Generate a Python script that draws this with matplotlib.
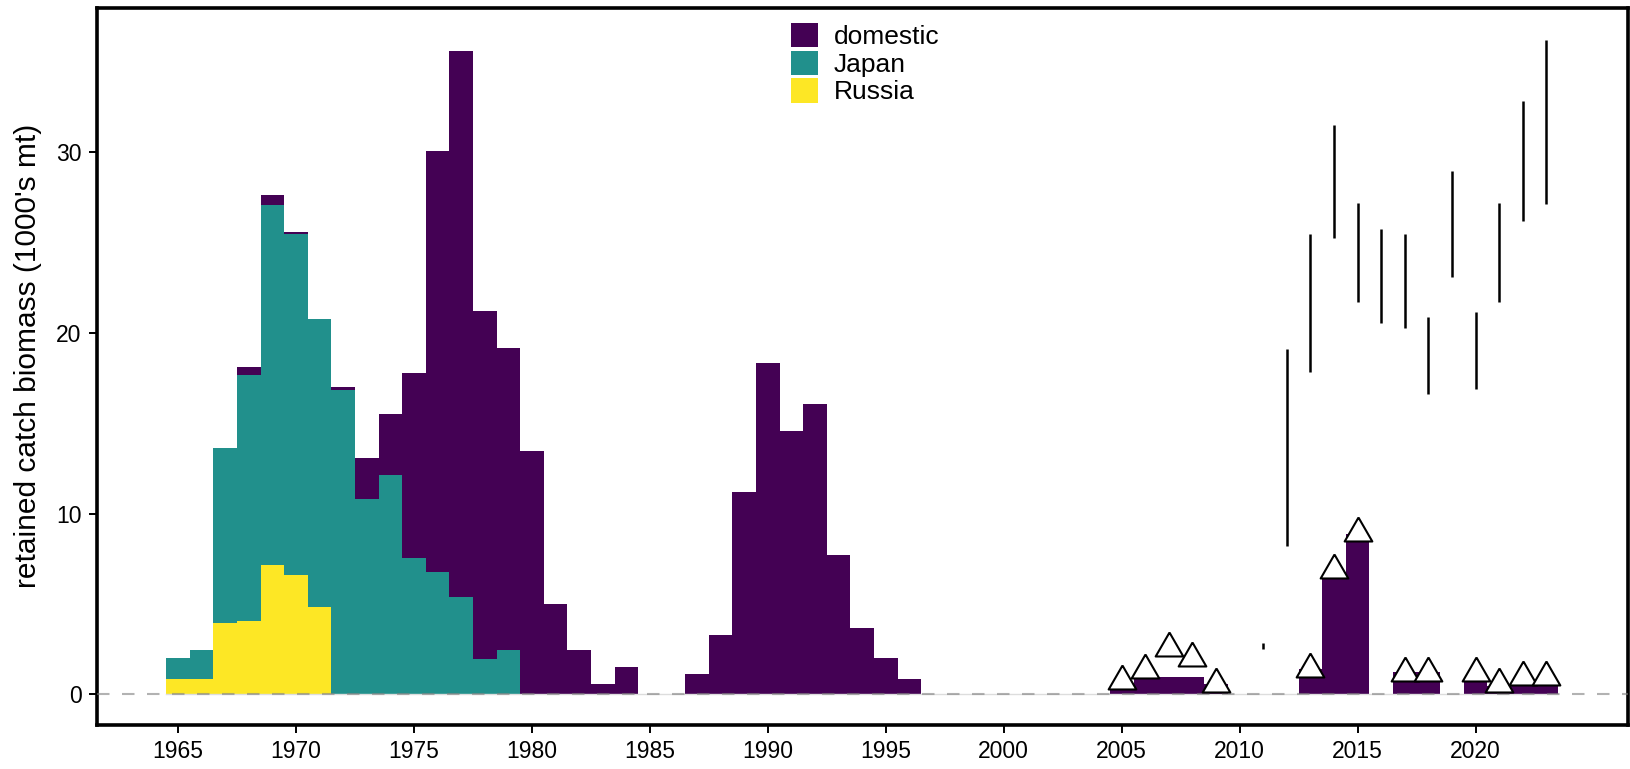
import numpy as np

import matplotlib
matplotlib.use("Agg")
import matplotlib.pyplot as plt


# =========================
# DATA
# =========================

years = np.arange(1965, 2024)

domestic = [
    0, 0, 0, 0.42, 0.55,                      # 1965-1969
    0.14, 0, 0.15, 2.27, 3.39,                # 1970-1974
    10.23, 23.29, 30.17, 19.24, 16.70,        # 1975-1979
    13.48, 5.01, 2.48, 0.60, 1.50,            # 1980-1984
    0, 0, 1.12, 3.29, 11.19,                  # 1985-1989
    18.36, 14.58, 16.06, 7.72, 3.66,          # 1990-1994
    2.04, 0.84, 0, 0, 0,                      # 1995-1999
    0, 0, 0, 0, 0,                            # 2000-2004
    0.30, 0.95, 0.95, 0.95, 0.60,             # 2005-2009
    0, 0, 0, 1.39, 6.52,                      # 2010-2014
    8.90, 0, 1.26, 1.26, 0,                   # 2015-2019
    0.80, 0.45, 0.55, 0.55,                   # 2020-2023
]

japan_years = np.arange(1965, 1980)
japan_vals = [1.20, 1.62, 9.68, 13.59, 19.92, 18.84, 15.92, 16.85,
              10.80, 12.13, 7.57, 6.76, 5.41, 1.95, 2.46]

russia_years = np.arange(1965, 1972)
russia_vals = [0.84, 0.84, 3.94, 4.09, 7.17, 6.63, 4.86]

obs_years = [2005, 2006, 2007, 2008, 2009, 2013, 2014, 2015,
             2017, 2018, 2020, 2021, 2022, 2023]
obs_vals = [0.73, 1.38, 2.57, 1.99, 0.60, 1.42, 6.90, 8.92,
            1.20, 1.20, 1.16, 0.57, 0.96, 0.96]

range_years = np.arange(2011, 2024)
range_lo = [2.50, 8.20, 17.84, 25.25, 21.73, 20.55, 20.29,
            16.63, 23.12, 16.89, 21.73, 26.18, 27.11]
range_hi = [2.87, 19.10, 25.45, 31.52, 27.21, 25.73, 25.45,
            20.88, 28.95, 21.14, 27.21, 32.84, 36.22]

series_names = ["domestic", "Japan", "Russia"]
series_colors = ["#440154", "#21908C", "#FDE725"]


# =========================
# STACK
# =========================

domestic = np.array(domestic)

japan = np.zeros(len(years))
japan[np.isin(years, japan_years)] = japan_vals

russia = np.zeros(len(years))
russia[np.isin(years, russia_years)] = russia_vals


# =========================
# PLOT
# =========================

plt.rcParams["font.family"] = ["Liberation Sans", "DejaVu Sans"]

fig = plt.figure(figsize=(16.31, 7.69), dpi=100)
ax = fig.add_axes([0.0593, 0.0572, 0.9387, 0.9330])

ax.bar(years, russia, width=1.0, color=series_colors[2],
       linewidth=0, label=series_names[2], zorder=2)
ax.bar(years, japan, width=1.0, bottom=russia, color=series_colors[1],
       linewidth=0, label=series_names[1], zorder=2)
ax.bar(years, domestic, width=1.0, bottom=russia + japan,
       color=series_colors[0], linewidth=0, label=series_names[0], zorder=2)

# zero reference line
ax.plot([years[0] - 0.5, years[-1] + 0.5], [0, 0], color="#dddddd",
        lw=1.0, zorder=3)
ax.axhline(0, color="grey", alpha=0.6, lw=1.5, dashes=(6, 6), zorder=3)

# ranges
ax.vlines(range_years, range_lo, range_hi, colors="black", lw=1.8, zorder=4)

# observed catch (triangles centred on centroid, like R's pch 24)
tri = [(0, 1), (-0.866, -0.5), (0.866, -0.5), (0, 1)]
ax.plot(obs_years, obs_vals, linestyle="none", marker=tri, markersize=23,
        markerfacecolor="white", markeredgecolor="black",
        markeredgewidth=1.5, zorder=5)

ax.set_xlim(1961.55, 2026.45)
ax.set_ylim(-1.69, 38.0)

ax.set_xticks(np.arange(1965, 2021, 5))
ax.set_yticks([0, 10, 20, 30])

ax.tick_params(axis="both", direction="out", length=6, width=1.4,
               labelsize=16.5, colors="black", pad=5)

for spine in ax.spines.values():
    spine.set_linewidth(2.6)
    spine.set_color("black")

ax.set_ylabel("retained catch biomass (1000's mt)", fontsize=21.5)
ax.yaxis.set_label_coords(-0.036, 0.515)

handles, labels = ax.get_legend_handles_labels()
order = [2, 1, 0]
fig.legend([handles[i] for i in order], [labels[i] for i in order],
           loc="upper left", bbox_to_anchor=(0.4847, 0.970),
           frameon=False, fontsize=19, handlelength=1.03,
           handleheight=1.03, labelspacing=0.06, handletextpad=0.62,
           borderpad=0, borderaxespad=0)

plt.savefig("out.png", dpi=100)

plt.close()
